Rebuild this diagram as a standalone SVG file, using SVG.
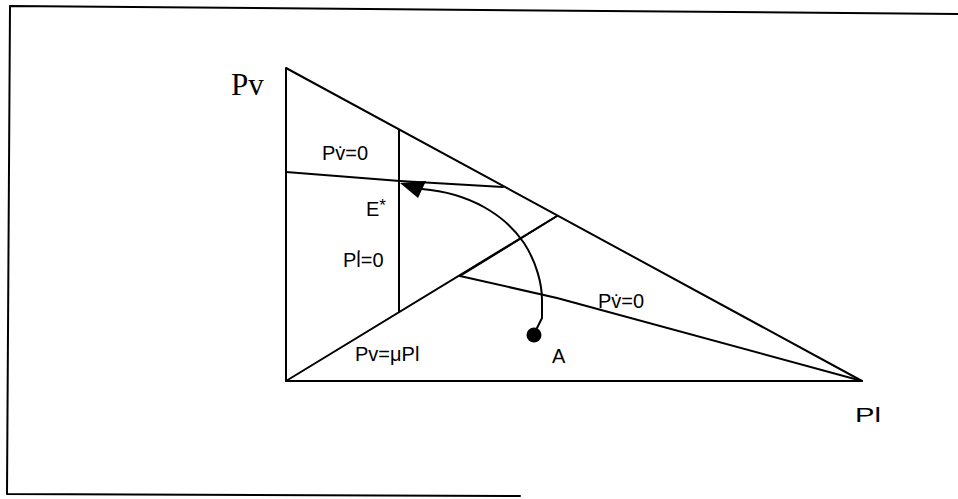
<svg xmlns="http://www.w3.org/2000/svg" width="958" height="499" viewBox="0 0 958 499">
<style>
.ln{fill:none;stroke:#000;stroke-width:2;stroke-linejoin:round;stroke-linecap:round}
.lb{font-family:"Liberation Sans",Arial,sans-serif;font-size:20px;fill:#000}
</style>
<rect x="0" y="0" width="958" height="499" fill="#fff"/>
<g id="frame">
<polyline class="ln" points="958,14 10,6 7,494 520,496" stroke-width="3"/>
</g>
<g id="axes">
<polyline class="ln" points="286,68 286,381 862,381 286,68"/>
</g>
<g id="connectors">
<line class="ln" x1="286" y1="381" x2="557" y2="216"/>
<line class="ln" x1="460" y1="276" x2="557" y2="216" stroke-width="3.5"/>
<line class="ln" x1="399" y1="130" x2="399" y2="312"/>
<polyline class="ln" points="286,172 400,181 503,187"/>
<polyline class="ln" points="460,276 557,298 862,381"/>
<path class="ln" d="M422,189 C470,193 505,215 524,243 C537,263 542,285 542,300 L542,318 L537,328"/>
<polygon points="400,183 426,181 418,198" fill="#000"/>
<circle cx="534" cy="335" r="7.5" fill="#000"/>
</g>
<g id="labels">
<text x="231" y="95" font-family="'Liberation Serif','Times New Roman',serif" font-size="31">Pv</text>
<text class="lb" x="322" y="160">Pv̇=0</text>
<text class="lb" x="366" y="216" font-size="22">E<tspan font-size="17" dy="-5">*</tspan></text>
<text class="lb" x="343" y="267" font-size="21">Pl̇=0</text>
<text class="lb" x="598" y="308">Pv̇=0</text>
<text class="lb" x="355" y="361" font-size="21">Pv=μPl</text>
<text class="lb" x="552" y="363" font-size="22">A</text>
<text class="lb" x="855" y="422" font-size="36" textLength="26" lengthAdjust="spacingAndGlyphs">Pl</text>
</g>
</svg>
